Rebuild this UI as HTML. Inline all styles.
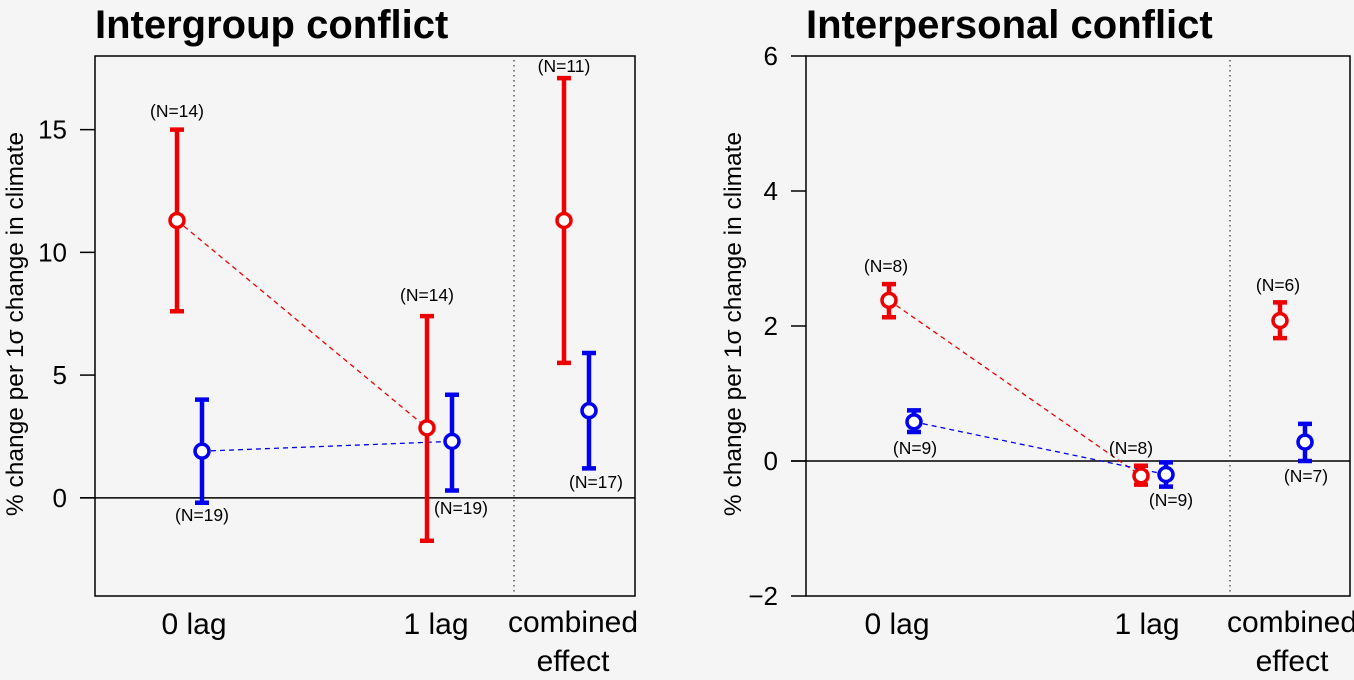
<!DOCTYPE html>
<html><head><meta charset="utf-8"><style>
html,body{margin:0;padding:0;background:#f6f5f5;}
svg{display:block;font-family:"Liberation Sans",sans-serif;}
</style></head><body>
<svg id="chart" width="1354" height="680" viewBox="0 0 1354 680" xmlns="http://www.w3.org/2000/svg">
<rect x="0" y="0" width="1354" height="680" fill="#f6f5f5"/>
</svg>
<script>
// Panel 1: Intergroup conflict
const catLabels = [["0 lag"],["1 lag"],["combined","effect"]];
const p1Ticks = [0,5,10,15];
const p1Red = [11.3, 2.85, 11.3];
const p1RedLo = [7.6, -1.75, 5.5];
const p1RedHi = [15.0, 7.4, 17.1];
const p1RedN = ["(N=14)","(N=14)","(N=11)"];
const p1Blue = [1.9, 2.3, 3.55];
const p1BlueLo = [-0.2, 0.3, 1.2];
const p1BlueHi = [4.0, 4.2, 5.9];
const p1BlueN = ["(N=19)","(N=19)","(N=17)"];
// Panel 2: Interpersonal conflict
const p2Ticks = [-2,0,2,4,6];
const p2Red = [2.38, -0.22, 2.08];
const p2RedLo = [2.13, -0.35, 1.82];
const p2RedHi = [2.62, -0.07, 2.35];
const p2RedN = ["(N=8)","(N=8)","(N=6)"];
const p2Blue = [0.58, -0.2, 0.28];
const p2BlueLo = [0.43, -0.38, 0.0];
const p2BlueHi = [0.75, -0.02, 0.55];
const p2BlueN = ["(N=9)","(N=9)","(N=7)"];

const NS="http://www.w3.org/2000/svg";
const svg=document.getElementById('chart');
function mk(tag,attrs,parent){const e=document.createElementNS(NS,tag);for(const k in attrs)e.setAttribute(k,attrs[k]);(parent||svg).appendChild(e);return e;}

function panel(cfg){
  const g=mk('g',{});
  
  
  const y=v=>cfg.y0+(v-cfg.vmin)/(cfg.vmax-cfg.vmin)*(cfg.y1-cfg.y0);
  const xr=i=>cfg.xs[i], xb=i=>cfg.xs[i]+25;
  const t=mk('text',{x:cfg.L,y:38,'font-size':40,'font-weight':'bold',fill:'#000'},g);t.textContent=cfg.title;
  
  
  const box=mk('rect',{x:cfg.L,y:cfg.y1,width:cfg.R-cfg.L,height:cfg.y0-cfg.y1,fill:'none',stroke:'#000','stroke-width':1.5},g);
  
  
  cfg.ticks.forEach(v=>{
    const ln=mk('line',{x1:cfg.L-15,x2:cfg.L,y1:y(v),y2:y(v),stroke:'#000','stroke-width':1.5},g);
    
    
    const tx=mk('text',{x:cfg.L-28,y:y(v)+9,'font-size':26,'text-anchor':'end',fill:'#000'},g);
    tx.textContent=v<0?'\u2212'+Math.abs(v):String(v);
    
    
  });
  const zl=mk('line',{x1:cfg.L-15,x2:cfg.R,y1:y(0),y2:y(0),stroke:'#000','stroke-width':1.5},g);
  
  
  const dl=mk('line',{x1:cfg.dot,x2:cfg.dot,y1:cfg.y1+4,y2:cfg.y0-4,stroke:'#333','stroke-width':1.2,'stroke-dasharray':'1.5,3.5'},g);
  
  
  const yt=mk('text',{x:0,y:0,'font-size':24.5,'text-anchor':'middle',fill:'#000',transform:`translate(${cfg.ytx},324) rotate(-90)`},g);
  yt.textContent='% change per 1\u03c3 change in climate';
  
  
  catLabels.forEach((lines,i)=>{
    lines.forEach((s,j)=>{
      const c=mk('text',{x:cfg.cx[i],y:(lines.length>1?632:634)+j*39,'font-size':30,'text-anchor':'middle',fill:'#000'},g);
      c.textContent=s;
      
      
    });
  });
  const rl=mk('line',{x1:xr(0),y1:y(cfg.red[0]),x2:xr(1),y2:y(cfg.red[1]),stroke:'#ee0000','stroke-width':1.3,'stroke-dasharray':'5,4'},g);
  
  
  const bl=mk('line',{x1:xb(0),y1:y(cfg.blue[0]),x2:xb(1),y2:y(cfg.blue[1]),stroke:'#0000ee','stroke-width':1.3,'stroke-dasharray':'5,4'},g);
  
  
  function series(vals,lo,hi,xf,col,nm){
    vals.forEach((v,i)=>{
      const x=xf(i);
      const eb=mk('path',{d:`M${x},${y(lo[i])}V${y(hi[i])}M${x-7},${y(lo[i])}H${x+7}M${x-7},${y(hi[i])}H${x+7}`,stroke:col,'stroke-width':4.5,fill:'none'},g);
      
      
      const pt=mk('circle',{cx:x,cy:y(v),r:7,fill:'#fff',stroke:col,'stroke-width':3.5},g);
      
      
    });
  }
  series(cfg.red,cfg.redLo,cfg.redHi,xr,'#ee0000','red');
  series(cfg.blue,cfg.blueLo,cfg.blueHi,xb,'#0000ee','blue');
  cfg.nlab.forEach(([s,x,yy])=>{
    const n=mk('text',{x:x,y:yy+6,'font-size':17.5,'text-anchor':'middle',fill:'#000'},g);
    n.textContent=s;
    
    
  });
}

panel({name:'intergroup-panel',title:'Intergroup conflict',L:95,R:635,y0:596,y1:56,vmin:-4,vmax:18,
  ticks:p1Ticks,dot:514,ytx:23,xs:[177,427,564],cx:[194,436,573],
  red:p1Red,redLo:p1RedLo,redHi:p1RedHi,blue:p1Blue,blueLo:p1BlueLo,blueHi:p1BlueHi,
  nlab:[[p1RedN[0],177,111],[p1RedN[1],427,295],[p1RedN[2],564,66],[p1BlueN[0],202,515],[p1BlueN[1],461,508],[p1BlueN[2],596,482]]});
panel({name:'interpersonal-panel',title:'Interpersonal conflict',L:806,R:1350,y0:596,y1:56,vmin:-2,vmax:6,
  ticks:p2Ticks,dot:1230,ytx:741,xs:[889,1141,1280],cx:[897,1147,1292],
  red:p2Red,redLo:p2RedLo,redHi:p2RedHi,blue:p2Blue,blueLo:p2BlueLo,blueHi:p2BlueHi,
  nlab:[[p2RedN[0],886,266],[p2RedN[1],1131,448],[p2RedN[2],1278,285],[p2BlueN[0],915,448],[p2BlueN[1],1171,500],[p2BlueN[2],1306,476]]});
</script>
</body></html>
